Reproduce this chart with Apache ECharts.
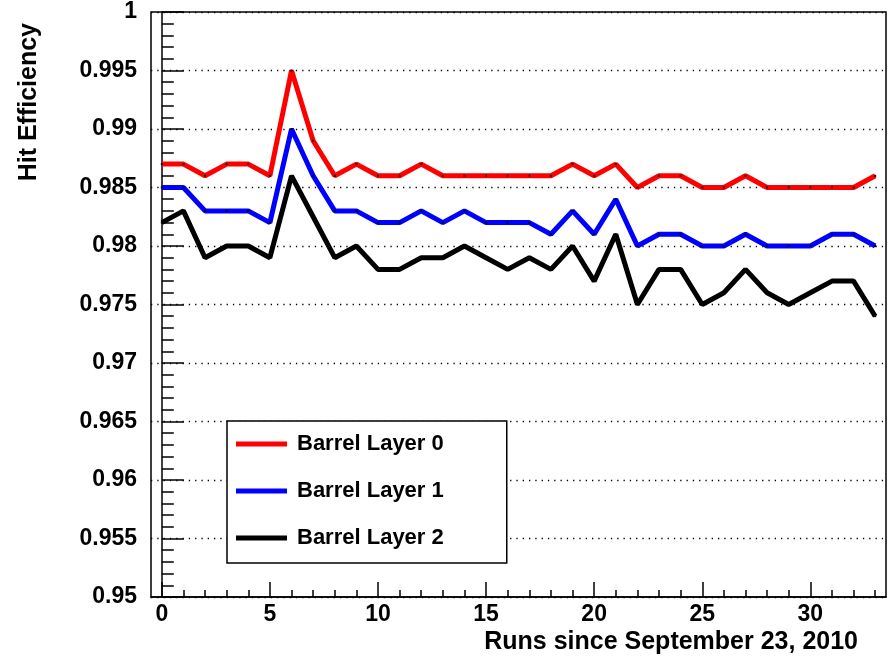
<!DOCTYPE html>
<html><head><meta charset="utf-8">
<script src="https://cdn.jsdelivr.net/npm/echarts@6/dist/echarts.min.js"></script>
<style>html,body{margin:0;padding:0;background:#fff}#c{width:890px;height:657px}</style>
</head><body><div id="c"></div>
<script>
const runs = [0,1,2,3,4,5,6,7,8,9,10,11,12,13,14,15,16,17,18,19,20,21,22,23,24,25,26,27,28,29,30,31,32,33];
const layer0 = [0.987,0.987,0.986,0.987,0.987,0.986,0.995,0.989,0.986,0.987,0.986,0.986,0.987,0.986,0.986,0.986,0.986,0.986,0.986,0.987,0.986,0.987,0.985,0.986,0.986,0.985,0.985,0.986,0.985,0.985,0.985,0.985,0.985,0.986];
const layer1 = [0.985,0.985,0.983,0.983,0.983,0.982,0.990,0.986,0.983,0.983,0.982,0.982,0.983,0.982,0.983,0.982,0.982,0.982,0.981,0.983,0.981,0.984,0.980,0.981,0.981,0.980,0.980,0.981,0.980,0.980,0.980,0.981,0.981,0.980];
const layer2 = [0.982,0.983,0.979,0.980,0.980,0.979,0.986,0.9825,0.979,0.980,0.978,0.978,0.979,0.979,0.980,0.979,0.978,0.979,0.978,0.980,0.977,0.981,0.975,0.978,0.978,0.975,0.976,0.978,0.976,0.975,0.976,0.977,0.977,0.974];
const seriesNames = ['Barrel Layer 0','Barrel Layer 1','Barrel Layer 2'];
const seriesColors = ['#ff0000','#0000ff','#000000'];
const xTickValues = [0,5,10,15,20,25,30];
const yTickValues = [0.95,0.955,0.96,0.965,0.97,0.975,0.98,0.985,0.99,0.995,1];
const xTitle = 'Runs since September 23, 2010';
const yTitle = 'Hit Efficiency';

const FONT = 'Liberation Sans';
const chart = echarts.init(document.getElementById('c'));
const allData = [layer0, layer1, layer2];
const blackLine = {color:'#000', width:1.5};

chart.setOption({
  animation: false,
  backgroundColor: '#fff',
  grid: {left:151, right:4, top:12, bottom:60, show:true, borderColor:'#000', borderWidth:1.5, backgroundColor:'transparent'},
  xAxis: [{
    type:'value', min:-0.5, max:33.5, position:'bottom',
    axisLine:{show:true, onZero:false, lineStyle:blackLine},
    axisTick:{show:true, inside:true, length:15, customValues:xTickValues, lineStyle:blackLine},
    axisLabel:{show:true, customValues:xTickValues, margin:6, color:'#000', fontFamily:FONT, fontWeight:'bold', fontSize:23},
    splitLine:{show:false}
  },{
    type:'value', min:-0.5, max:33.5, position:'bottom',
    axisLine:{show:false},
    axisTick:{show:true, inside:true, length:7, customValues:runs, lineStyle:blackLine},
    axisLabel:{show:false},
    splitLine:{show:false}
  }],
  yAxis: {
    type:'value', min:0.95, max:1, interval:0.005,
    axisLine:{show:true, lineStyle:blackLine},
    axisTick:{show:true, inside:true, length:22, lineStyle:blackLine},
    minorTick:{show:true, splitNumber:5, length:12, lineStyle:blackLine},
    axisLabel:{margin:14, color:'#000', fontFamily:FONT, fontWeight:'bold', fontSize:23,
      formatter: v => { const m = yTickValues.find(t => Math.abs(t - v) < 1e-7); return m === undefined ? '' : String(m); }},
    splitLine:{show:true, lineStyle:{color:'#000', width:1.3, type:[1.3,5]}}
  },
  legend: {
    orient:'vertical', left:227, top:421, padding:[11,63,13,9], itemGap:23,
    itemWidth:51, itemHeight:5, icon:'rect', selectedMode:false,
    borderColor:'#000', borderWidth:1.5, backgroundColor:'#fff',
    textStyle:{color:'#000', fontFamily:FONT, fontWeight:'bold', fontSize:22, lineHeight:24, padding:[0,0,0,5]},
    data: seriesNames.map((n,i) => ({name:n, itemStyle:{color:seriesColors[i]}}))
  },
  series: seriesNames.map((n,i) => ({
    name:n, type:'line', xAxisIndex:0,
    data: runs.map((x,j) => [x, allData[i][j]]),
    lineStyle:{color:seriesColors[i], width:5},
    symbol:'rect', symbolSize:2, showSymbol:true,
    itemStyle:{color:'#000', borderWidth:0},
    emphasis:{disabled:true}, z: 3 - i
  })),
  graphic: [
    {type:'text', x:858, y:642, style:{text:xTitle, align:'right', verticalAlign:'middle', fill:'#000', font:'bold 25px "Liberation Sans"'}},
    {type:'text', x:29, y:23, rotation:Math.PI/2, style:{text:yTitle, align:'right', verticalAlign:'middle', fill:'#000', font:'bold 25px "Liberation Sans"'}}
  ]
});
</script></body></html>
